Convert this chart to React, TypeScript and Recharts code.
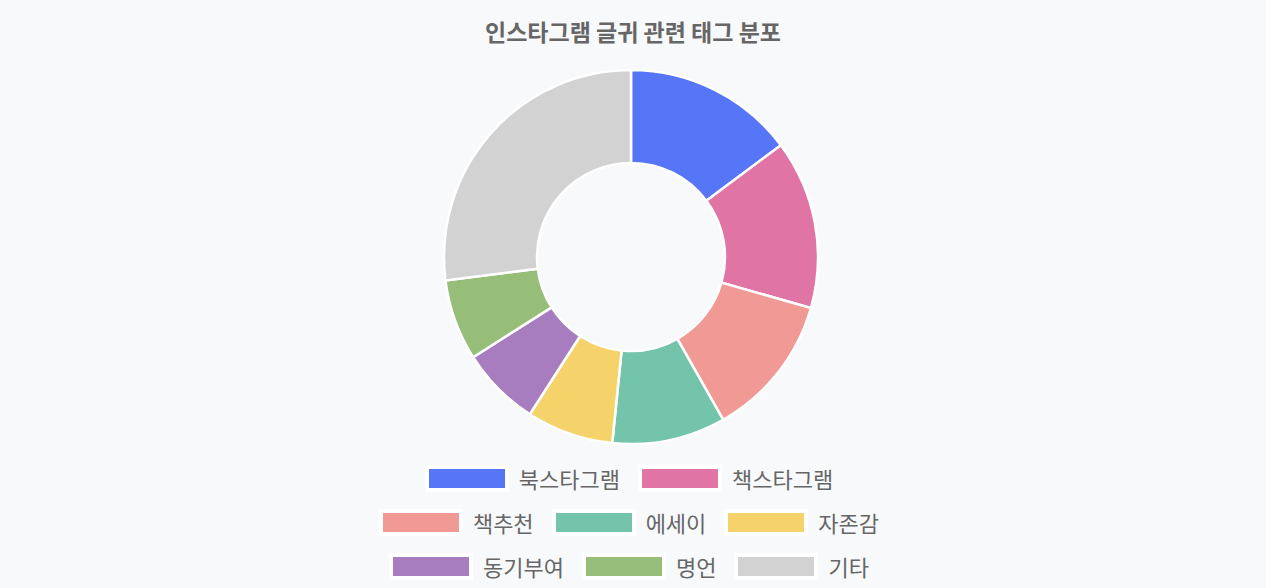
import React from 'react';
import { PieChart, Pie, Cell } from 'recharts';

const TITLE = '인스타그램 글귀 관련 태그 분포';

const TAGS = ['북스타그램', '책스타그램', '책추천', '에세이', '자존감', '동기부여', '명언', '기타'];
const SHARES = [14.8, 14.6, 12.4, 9.8, 7.5, 6.9, 7.0, 27.0];
const COLORS = ['#5675F7', '#DF74A5', '#F09995', '#74C4AB', '#F6D26B', '#A77DC0', '#96BE78', '#D2D2D2'];

const BG = '#F8F9FB';
const FONT = '"Noto Sans CJK KR", "Noto Sans", sans-serif';

const data = TAGS.map((name, i) => ({ name, value: SHARES[i] }));

export default function App() {
    return (
        <div style={{ position: 'relative', width: 1266, height: 588, background: BG, fontFamily: FONT }}>
            <style>{`body { margin: 0; background: ${BG}; }`}</style>
            <div
                style={{
                    position: 'absolute',
                    top: 16,
                    left: 0,
                    width: 1266,
                    textAlign: 'center',
                    fontSize: 23,
                    lineHeight: '30px',
                    fontWeight: 700,
                    color: '#666666',
                }}
            >
                {TITLE}
            </div>
            <PieChart
                width={1266}
                height={588}
                margin={{ top: 0, right: 0, bottom: 0, left: 0 }}
                style={{ position: 'absolute', top: 0, left: 0 }}
            >
                <Pie
                    data={data}
                    dataKey="value"
                    nameKey="name"
                    cx={631}
                    cy={257}
                    innerRadius={94}
                    outerRadius={187}
                    startAngle={90}
                    endAngle={-270}
                    stroke="#ffffff"
                    strokeWidth={2.5}
                    isAnimationActive={false}
                >
                    {data.map((d, i) => (
                        <Cell key={d.name} fill={COLORS[i]} />
                    ))}
                </Pie>
            </PieChart>
            <div
                style={{
                    position: 'absolute',
                    top: 465,
                    left: 349,
                    width: 560,
                    display: 'flex',
                    flexWrap: 'wrap',
                    justifyContent: 'center',
                    columnGap: 18,
                    rowGap: 17,
                }}
            >
                {data.map((d, i) => (
                    <div key={d.name} style={{ display: 'flex', alignItems: 'center', height: 27 }}>
                        <div
                            style={{
                                width: 76,
                                height: 19,
                                background: COLORS[i],
                                border: '4px solid #ffffff',
                                marginRight: 10,
                            }}
                        />
                        <span style={{ fontSize: 22, lineHeight: '27px', color: '#666666' }}>{d.name}</span>
                    </div>
                ))}
            </div>
        </div>
    );
}
